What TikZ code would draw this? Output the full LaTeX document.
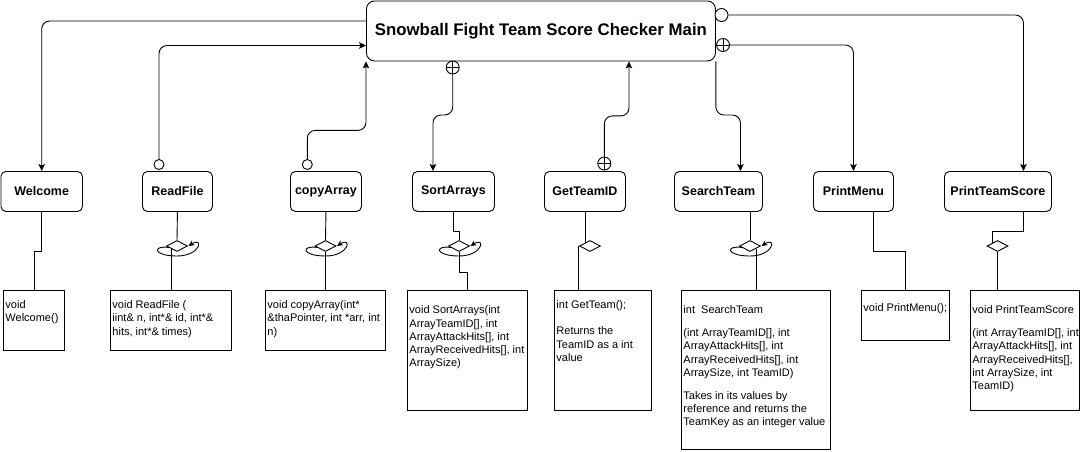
\documentclass[tikz,border=0pt]{standalone}
\usepackage{fontspec}
\setmainfont{Liberation Sans}
\usetikzlibrary{arrows.meta,calc,shapes.geometric}

\tikzset{
  mainbox/.style={draw, rounded corners=8pt, anchor=north west, inner sep=0pt, font=\bfseries\fontsize{16.8}{20}\selectfont},
  func/.style={draw, rounded corners=5pt, anchor=north west, minimum height=40pt, inner sep=0pt, font=\bfseries\fontsize{12.5}{15}\selectfont},
  descbox/.style={draw, anchor=north west, inner sep=0pt},
  desctext/.style={anchor=north west, align=left, inner sep=0pt, xshift=2pt, yshift=-10pt, font=\fontsize{11}{13.3}\selectfont},
  ocirc/.style={circle, draw, fill=white, minimum size=10pt, inner sep=0pt},
  oplus/.style={circle, draw, fill=white, minimum size=13pt, inner sep=0pt,
    path picture={\draw (path picture bounding box.north) -- (path picture bounding box.south)
                        (path picture bounding box.west) -- (path picture bounding box.east);}},
  agg/.style={diamond, draw, fill=white, minimum width=21pt, minimum height=11pt, inner sep=0pt},
  callline/.style={rounded corners=8pt, -{Stealth[length=7pt,width=6.5pt,inset=1.5pt]}},
  link/.style={line width=0.9pt},
  looparrow/.style={line width=0.9pt, -{Stealth[length=6pt,width=5.5pt]}}
}

\newcommand\turnloop[1]{\draw[looparrow, shift={(#1.center)}] (-8,1.5) .. controls (-25,-1) and (-24,10) .. (0,10) .. controls (24,10) and (27,-10) .. (11.5,0);}

\begin{document}
\begin{tikzpicture}[x=1pt, y=-1pt, line width=0.9pt]
    \useasboundingbox (0,0) rectangle (1081,451);

    % Main program
    \node[mainbox, minimum width=349pt, minimum height=60pt] (main) at (366,0.5) {Snowball Fight Team Score Checker Main};

    % Functions
    \node[func, minimum width=81.5pt] (wel) at (0.5,171) {Welcome};
    \node[func, minimum width=70pt] (rf) at (142,171) {ReadFile};
    \node[func, minimum width=71pt] (ca) at (290,171) {copyArray};
    \node[func, minimum width=82pt] (sa) at (412,171) {SortArrays};
    \node[func, minimum width=81pt] (gt) at (544,171) {GetTeamID};
    \node[func, minimum width=88pt] (st) at (674,171) {SearchTeam};
    \node[func, minimum width=80pt] (pm) at (813,171) {PrintMenu};
    \node[func, minimum width=107pt] (pts) at (944,171) {PrintTeamScore};

    % Prototypes
    \node[descbox, minimum width=61pt, minimum height=60pt] (weld) at (3,290) {};
    \node[descbox, minimum width=121pt, minimum height=60pt] (rfd) at (110,290) {};
    \node[descbox, minimum width=120pt, minimum height=60pt] (cad) at (265,290) {};
    \node[descbox, minimum width=120pt, minimum height=120pt] (sad) at (407,290) {};
    \node[descbox, minimum width=97pt, minimum height=120pt] (gtd) at (554,290) {};
    \node[descbox, minimum width=149pt, minimum height=159pt] (std) at (681,290) {};
    \node[descbox, minimum width=88pt, minimum height=50pt] (pmd) at (861,290) {};
    \node[descbox, minimum width=109pt, minimum height=120pt] (ptsd) at (970,290) {};

    \node[desctext] (weldt) at (weld.north west) {void\\Welcome()};
    \node[desctext] (rfdt) at (rfd.north west) {void ReadFile (\\iint\& n, int*\& id, int*\&\\hits, int*\& times)};
    \node[desctext] (cadt) at (cad.north west) {void copyArray(int*\\\&thaPointer, int *arr, int\\n)};
    \node[desctext] (sadt) at (sad.north west) {\mbox{}\\void SortArrays(int\\ArrayTeamID[], int\\ArrayAttackHits[], int\\ArrayReceivedHits[], int\\ArraySize)};
    \node[desctext] (gtdt) at (gtd.north west) {int GetTeam();\\[13pt]Returns the\\TeamID as a int\\value};
    \node[desctext] (stdt) at (std.north west) {\mbox{}\\int\ \ SearchTeam\\[9.5pt](int ArrayTeamID[], int\\ArrayAttackHits[], int\\ArrayReceivedHits[], int\\ArraySize, int TeamID)\\[9.5pt]Takes in its values by\\reference and returns the\\TeamKey as an integer value};
    \node[desctext, yshift=-3pt] (pmdt) at (pmd.north west) {void PrintMenu();};
    \node[desctext] (ptsdt) at (ptsd.north west) {\mbox{}\\void PrintTeamScore\\[9.5pt](int ArrayTeamID[], int\\ArrayAttackHits[], int\\ArrayReceivedHits[],\\int ArraySize, int\\TeamID)};

    % Call markers
    \node[ocirc] (rfc) at (159,164.5) {};
    \node[ocirc] (cac) at (307.3,164.5) {};
    \node[oplus] (sap) at (452.7,67.5) {};
    \node[oplus] (gtp) at (604.3,163.5) {};
    \node[oplus] (pmp) at (723,45) {};
    \node[ocirc, minimum size=13pt] (ptsc) at (721.5,15) {};

    % Calls between main and functions
    \coordinate (welOut) at ($(main.north west)+(0,20.5)$);
    \coordinate (rfIn) at ($(main.north west)+(0,45)$);
    \coordinate (saIn) at ($(sa.north)+(-20.5,0)$);
    \coordinate (gtIn) at ($(main.south)+(88,0)$);
    \coordinate (stIn) at ($(st.north)+(22,0)$);
    \coordinate (ptsIn) at ($(pts.north)+(25.5,0)$);

    \draw[callline] (welOut) -| (wel.north);
    \draw[callline] (rfc.north) |- (rfIn);
    \draw[callline] (cac.north) |- ($(main.south west)+(0,69)$) -- (main.south west);
    \draw[callline] (sap.south) |- ($(saIn)+(0,-56)$) -- (saIn);
    \draw[callline] (gtp.north) |- ($(gtIn)+(0,54.5)$) -- (gtIn);
    \draw[callline] (main.south east) |- ($(stIn)+(0,-56)$) -- (stIn);
    \draw[callline] (pmp.east) -| (pm.north);
    \draw[callline] (ptsc.east) -| (ptsIn);

    % Links to prototypes
    \node[agg] (rfdia) at (177,246) {};
    \node[agg] (cadia) at (325.5,246) {};
    \node[agg] (sadia) at (459,246) {};
    \node[agg] (gtdia) at (590,246) {};
    \node[agg] (stdia) at (750,246) {};
    \node[agg] (ptsdia) at (997.5,246) {};

    \draw[link] (wel.south) -- ++(0,40) -| (weld.north);
    \draw[link] (rf.south) -- (rfdia.north);
    \draw[link] (rfd.north) -- (rfd.north |- rfdia.south west);
    \draw[link] (ca.south) -- (cadia.north);
    \draw[link] (cad.north) -- (cadia.south);
    \draw[link] (sa.south) -- ++(0,20) -| (sadia.north);
    \draw[link] (sadia.south) -- ++(0,20.5) -| (sad.north);
    \draw[link] (gt.south) -- (gt.south |- gtdia.north west);
    \draw[link] ($(gtd.north west)+(24,0)$) |- (gtdia.west);
    \draw[link] (stdia.north |- st.south) -- (stdia.north);
    \draw[link] (std.north) -- (std.north |- stdia.south east);
    \draw[link] ($(pm.south)+(20,0)$) -- ++(0,40) -| (pmd.north);
    \draw[link] ($(pts.south)+(25.5,0)$) -- ++(0,20) -| (ptsdia.north west);
    \draw[link] (ptsdia.south) -- (ptsdia.south |- ptsd.north);

    \turnloop{rfdia}
    \turnloop{cadia}
    \turnloop{sadia}
    \turnloop{stdia}
\end{tikzpicture}
\end{document}
